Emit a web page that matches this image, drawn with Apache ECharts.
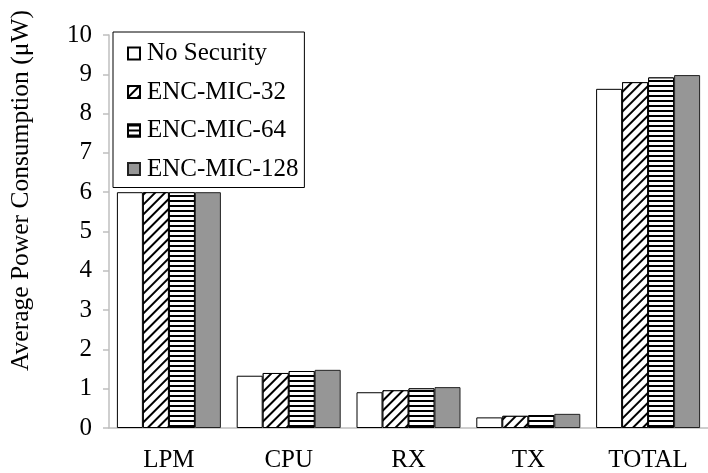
<!DOCTYPE html>
<html>
<head>
<meta charset="utf-8">
<script src="https://cdn.jsdelivr.net/npm/echarts@6/dist/echarts.min.js"></script>
<style>html,body{margin:0;padding:0;background:#fff}#c{width:708px;height:473px}</style>
</head>
<body>
<div id="c"></div>
<script>
var categories = ['LPM', 'CPU', 'RX', 'TX', 'TOTAL'];
var seriesNames = ['No Security', 'ENC-MIC-32', 'ENC-MIC-64', 'ENC-MIC-128'];
var noSecurity = [6.0, 1.33, 0.91, 0.27, 8.63];
var encMic32 = [6.0, 1.40, 0.96, 0.31, 8.80];
var encMic64 = [6.0, 1.45, 1.01, 0.33, 8.92];
var encMic128 = [6.0, 1.48, 1.04, 0.36, 8.98];
var yTicks = [0, 1, 2, 3, 4, 5, 6, 7, 8, 9, 10];

var FONT = "'Liberation Serif', 'Times New Roman', Times, serif";
var chart = echarts.init(document.getElementById('c'));
function mk(name, data, itemStyle) {
  return {name: name, type: 'bar', data: data, barWidth: 26, barGap: '0%',
    itemStyle: itemStyle, emphasis: {disabled: true}, animation: false};
}
chart.setOption({
  animation: false,
  grid: {left: 106, right: -10, top: 35, bottom: 44.5, containLabel: false},
  legend: {
    left: 113, top: 32, orient: 'vertical', width: 190,
    data: seriesNames,
    backgroundColor: '#fff', borderColor: '#000', borderWidth: 1,
    padding: [9, 6, 6, 14], itemGap: 13.5, itemWidth: 12, itemHeight: 12,
    icon: 'rect',
    textStyle: {fontFamily: FONT, fontSize: 25, color: '#000', padding: [0, 0, 0, 2]}
  },
  xAxis: {
    type: 'category', data: categories,
    axisLine: {lineStyle: {color: '#bfbfbf', width: 1.5}},
    axisTick: {show: false},
    axisLabel: {fontFamily: FONT, fontSize: 25, color: '#000', margin: 20}
  },
  yAxis: {
    type: 'value', min: yTicks[0], max: yTicks[yTicks.length - 1], interval: 1,
    name: 'Average Power Consumption (\u03bcW)', nameLocation: 'middle', nameGap: 75,
    nameTextStyle: {fontFamily: FONT, fontSize: 25.5, color: '#000', padding: [0, 0, 0, 82]},
    axisLine: {show: true, lineStyle: {color: '#bfbfbf', width: 1.5}},
    axisTick: {show: true, length: 6, lineStyle: {color: '#bfbfbf', width: 1.5}},
    splitLine: {show: false},
    axisLabel: {fontFamily: FONT, fontSize: 25, color: '#000', margin: 17}
  },
  series: [
    mk(seriesNames[0], noSecurity, {color: '#fff', borderColor: '#000', borderWidth: 1}),
    mk(seriesNames[1], encMic32, {color: '#fff', borderColor: '#000', borderWidth: 1,
      decal: {symbol: 'rect', symbolSize: 1, dashArrayX: [[1, 0]], dashArrayY: [2, 5], rotation: -Math.PI / 4, color: '#000', backgroundColor: '#fff'}}),
    mk(seriesNames[2], encMic64, {color: '#fff', borderColor: '#000', borderWidth: 1,
      decal: {symbol: 'rect', symbolSize: 1, dashArrayX: [[1, 0]], dashArrayY: [1.5, 2.5], rotation: 0, color: '#000', backgroundColor: '#fff'}}),
    mk(seriesNames[3], encMic128, {color: '#969696', borderColor: '#222', borderWidth: 1})
  ]
});
</script>
</body>
</html>
